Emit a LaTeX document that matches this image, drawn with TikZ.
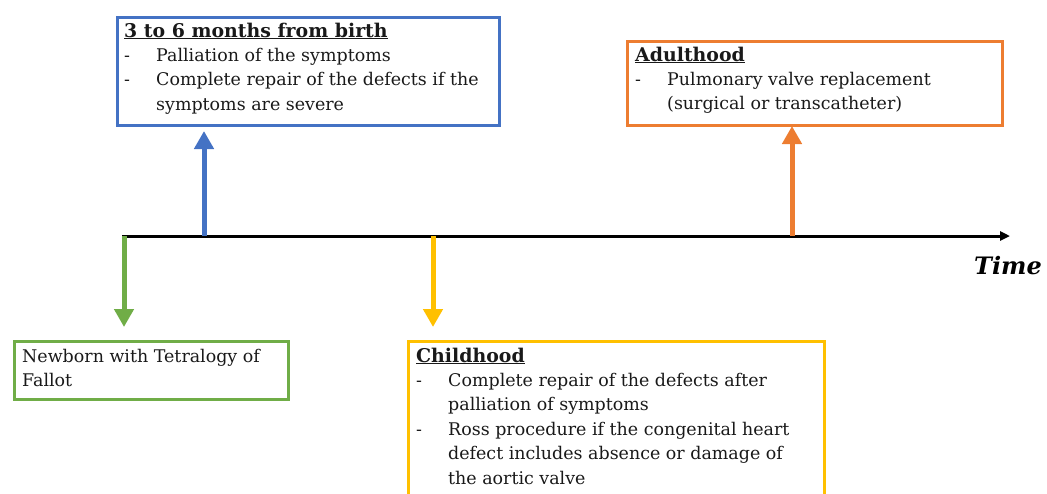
\documentclass[tikz,border=0pt]{standalone}
\usepackage{fontspec}
\setmainfont{DejaVu Serif}
\usetikzlibrary{arrows.meta}
\definecolor{cblue}{HTML}{4472C4}
\definecolor{corange}{HTML}{ED7D31}
\definecolor{cgreen}{HTML}{70AD47}
\definecolor{cyellow}{HTML}{FFC000}
\newcommand{\dashitem}[1]{\makebox[32pt][l]{-}#1}
\newcommand{\cont}[1]{\hspace*{32pt}#1}
\newcommand{\boxtitle}[1]{{\fontsize{18.9}{24.4}\selectfont\bfseries\underline{#1}}}
\begin{document}
\begin{tikzpicture}[x=1pt,y=-1pt,
  frame/.style={draw=#1, line width=3pt, anchor=north west, inner sep=0pt},
  txt/.style={anchor=base west, inner sep=0pt, align=left, font=\fontsize{17.45}{24.4}\selectfont, text=black!90},
  evarrow/.style={draw=#1, line width=5pt, -{Triangle[width=19pt,length=18pt]}}
]
\useasboundingbox (0,0) rectangle (1047,493);
% timeline
\coordinate (tstart) at (122,236);
\coordinate (tend) at (1010,236);
\draw[line width=3pt, -{Triangle[width=9pt,length=10pt]}] (tstart) -- (tend);
\node[anchor=base west, inner sep=0pt, font=\fontsize{24}{28}\selectfont\bfseries\itshape] (time) at (974,274) {Time};

% boxes
\node[frame=cblue, minimum width=382pt, minimum height=108pt] (bluebox) at (115.5,15.5) {};
\node[frame=corange, minimum width=375pt, minimum height=84pt] (orangebox) at (625.5,39.5) {};
\node[frame=cgreen, minimum width=274pt, minimum height=58pt] (greenbox) at (12.5,339.5) {};
\node[frame=cyellow, minimum width=416pt, minimum height=200pt] (yellowbox) at (406.5,339.5) {};

% texts (anchored at the baseline of the last line)
\node[txt] (bluetxt) at (124,110.2) {\boxtitle{3 to 6 months from birth}\\
\dashitem{Palliation of the symptoms}\\
\dashitem{Complete repair of the defects if the}\\
\cont{symptoms are severe}};
\node[txt] (orangetxt) at (635,109.8) {\boxtitle{Adulthood}\\
\dashitem{Pulmonary valve replacement}\\
\cont{(surgical or transcatheter)}};
\node[txt] (greentxt) at (22,386.4) {Newborn with Tetralogy of\\ Fallot};
\node[txt] (yellowtxt) at (416,484) {\boxtitle{Childhood}\\
\dashitem{Complete repair of the defects after}\\
\cont{palliation of symptoms}\\
\dashitem{Ross procedure if the congenital heart}\\
\cont{defect includes absence or damage of}\\
\cont{the aortic valve}};

% event arrows
\coordinate (gA) at (124,236);
\coordinate (bA) at (204,236);
\coordinate (yA) at (433,236);
\coordinate (oA) at (792,236);
\draw[evarrow=cgreen] (gA) -- (124,327);
\draw[evarrow=cblue] (bA) -- (204,131);
\draw[evarrow=cyellow] (yA) -- (433,327);
\draw[evarrow=corange] (oA) -- (792,126);
\end{tikzpicture}
\end{document}
